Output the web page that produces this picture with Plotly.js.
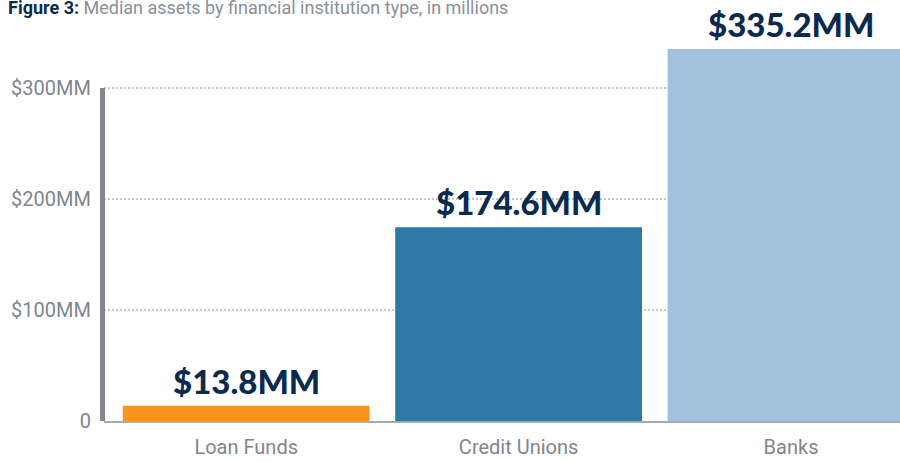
<!DOCTYPE html>
<html>
<head>
<meta charset="utf-8">
<script src="https://cdn.plot.ly/plotly-3.0.1.min.js"></script>
<style>html,body{margin:0;padding:0;background:#fff;}#chart{width:900px;height:461px;}</style>
</head>
<body>
<div id="chart"></div>
<script>
var categories = ["Loan Funds", "Credit Unions", "Banks"];
var medianAssets = [13.8, 174.6, 335.2];
var valueLabels = ["$13.8MM", "$174.6MM", "$335.2MM"];
var barColors = ["#f7941d", "#2e79a6", "#a2c1de"];
var tickValues = [0, 100, 200, 300];
var tickLabels = ["0", "$100MM", "$200MM", "$300MM"];

var trace = {
  type: "bar",
  x: categories,
  y: medianAssets,
  marker: {color: barColors, line: {width: 0}},
  hoverinfo: "none"
};

var annotations = categories.map(function(c, i) {
  return {
    x: c, y: medianAssets[i], xref: "x", yref: "y",
    text: valueLabels[i], showarrow: false,
    yanchor: "bottom", yshift: 3,
    font: {family: "Lato, 'Open Sans', sans-serif", size: 33, color: "#0c2a4d", weight: 900}
  };
});

var layout = {
  width: 900, height: 461,
  margin: {l: 104, r: 0, t: 0, b: 40},
  paper_bgcolor: "#ffffff", plot_bgcolor: "#ffffff",
  showlegend: false,
  bargap: 0.094,
  title: {
    text: "<b><span style='color:#0c2a4d'>Figure 3:</span></b> <span style='color:#8a8f99'>Median assets by financial institution type, in millions</span>",
    xref: "container", yref: "container", x: 8/900, xanchor: "left",
    y: 1 - 8/461, yanchor: "middle",
    font: {family: "Roboto, sans-serif", size: 18, color: "#8a8f99"}
  },
  xaxis: {
    range: [-0.522, 2.40], fixedrange: true,
    showgrid: false, zeroline: false,
    showline: true, linecolor: "#a7a9ae", linewidth: 2,
    ticks: "outside", ticklen: 7, tickcolor: "rgba(0,0,0,0)",
    tickfont: {family: "Roboto, sans-serif", size: 20, color: "#80858f"}
  },
  yaxis: {
    range: [0, 379.3], fixedrange: true,
    tickvals: tickValues, ticktext: tickLabels,
    showgrid: true, gridcolor: "#c4c5c8", griddash: "2px,2px", gridwidth: 1.5,
    zeroline: false, showline: false,
    ticks: "outside", ticklen: 8, tickcolor: "rgba(0,0,0,0)",
    tickfont: {family: "Roboto, sans-serif", size: 20, color: "#80858f"}
  },
  shapes: [{
    type: "line", xref: "paper", yref: "y",
    x0: -1.5/796, x1: -1.5/796, y0: 0, y1: 300,
    line: {color: "#85878f", width: 5}
  }],
  annotations: annotations
};

Plotly.newPlot("chart", [trace], layout, {displayModeBar: false, staticPlot: true});
</script>
</body>
</html>
